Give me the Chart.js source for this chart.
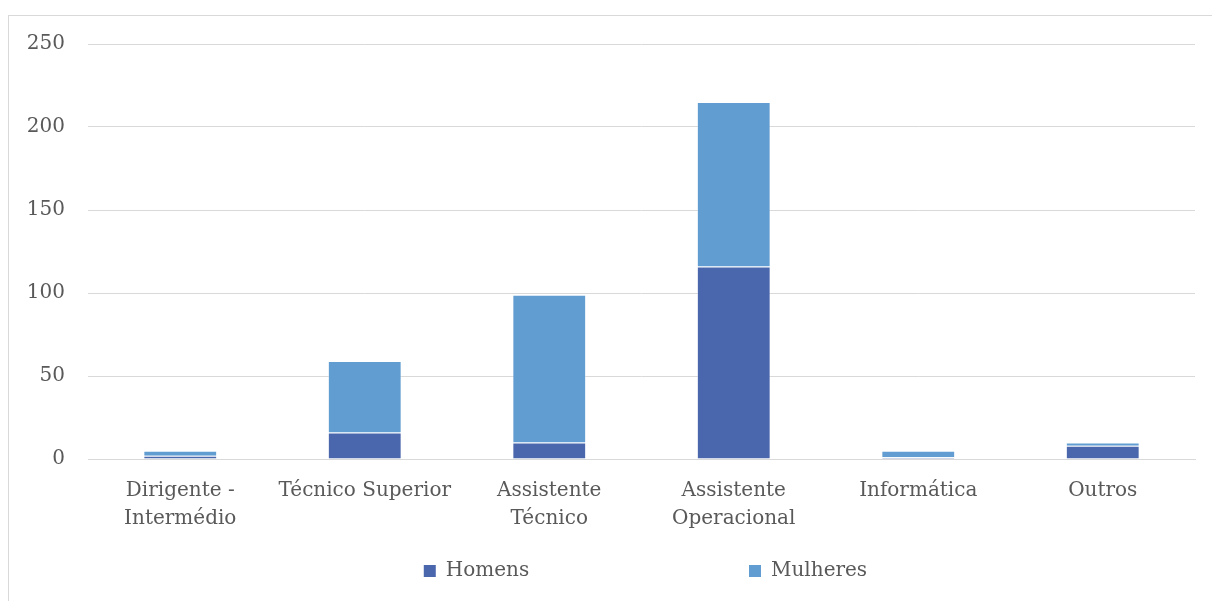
<!DOCTYPE html>
<html>
<head>
<meta charset="utf-8">
<script src="https://cdn.jsdelivr.net/npm/chart.js@4"></script>
<style>
  html, body { margin: 0; padding: 0; background: #fff; overflow: hidden; }
  #frame { position: absolute; left: 8px; top: 15px; width: 1210px; height: 600px;
           border: 1px solid #d9d9d9; }
  #wrap { position: absolute; left: 0; top: 0; width: 1203px; height: 585px; }
</style>
</head>
<body>
<div id="frame"><div id="wrap"><canvas id="chart"></canvas></div></div>
<script>
const categories = [
  ['Dirigente -', 'Intermédio'],
  'Técnico Superior',
  ['Assistente', 'Técnico'],
  ['Assistente', 'Operacional'],
  'Informática',
  'Outros'
];
const homens = [2, 16, 10, 116, 1, 8];
const mulheres = [3, 43, 89, 99, 4, 2];
const yTicks = [0, 50, 100, 150, 200, 250];

const font = 'DejaVu Serif';
const textColor = '#595959';
// wide gaps between legend entries, as in the original
const gap = n => '\u00a0'.repeat(n);

const ctx = document.getElementById('chart').getContext('2d');
new Chart(ctx, {
  type: 'bar',
  data: {
    labels: categories,
    datasets: [
      { label: 'Homens', data: homens, backgroundColor: '#4a66ac',
        borderColor: 'rgba(255,255,255,0.35)', borderWidth: 1,
        categoryPercentage: 0.8, barPercentage: 0.5 },
      { label: 'Mulheres', data: mulheres, backgroundColor: '#629dd1',
        borderColor: 'rgba(255,255,255,0.35)', borderWidth: 1,
        categoryPercentage: 0.8, barPercentage: 0.5 }
    ]
  },
  options: {
    responsive: true,
    maintainAspectRatio: false,
    animation: false,
    layout: { padding: { left: 0, right: 17, top: 28, bottom: 10 } },
    plugins: {
      tooltip: { enabled: false },
      legend: {
        position: 'bottom',
        align: 'end',
        labels: {
          color: textColor,
          font: { family: font, size: 20 },
          boxWidth: 12, boxHeight: 12,
          padding: 10,
          generateLabels: chart => {
            const items = Chart.defaults.plugins.legend.labels.generateLabels(chart);
            items[0].text += gap(33);
            items[1].text += gap(50);
            items.forEach(it => { it.lineWidth = 0; });
            return items;
          }
        }
      }
    },
    scales: {
      x: {
        stacked: true,
        grid: { display: false, drawTicks: false },
        border: { display: true, color: '#d9d9d9', width: 1 },
        ticks: { color: textColor, font: { family: font, size: 20, lineHeight: 1.4 },
                 padding: 18, maxRotation: 0, autoSkip: false }
      },
      y: {
        stacked: true,
        min: 0, max: 250,
        afterBuildTicks: s => { s.ticks = yTicks.map(v => ({ value: v })); },
        afterFit: s => { s.width = 79; s.paddingTop = 0; },
        grid: { color: '#d9d9d9', drawTicks: false },
        border: { display: false },
        ticks: { color: textColor, font: { family: font, size: 20 }, padding: 23 }
      }
    }
  }
});
</script>
</body>
</html>
